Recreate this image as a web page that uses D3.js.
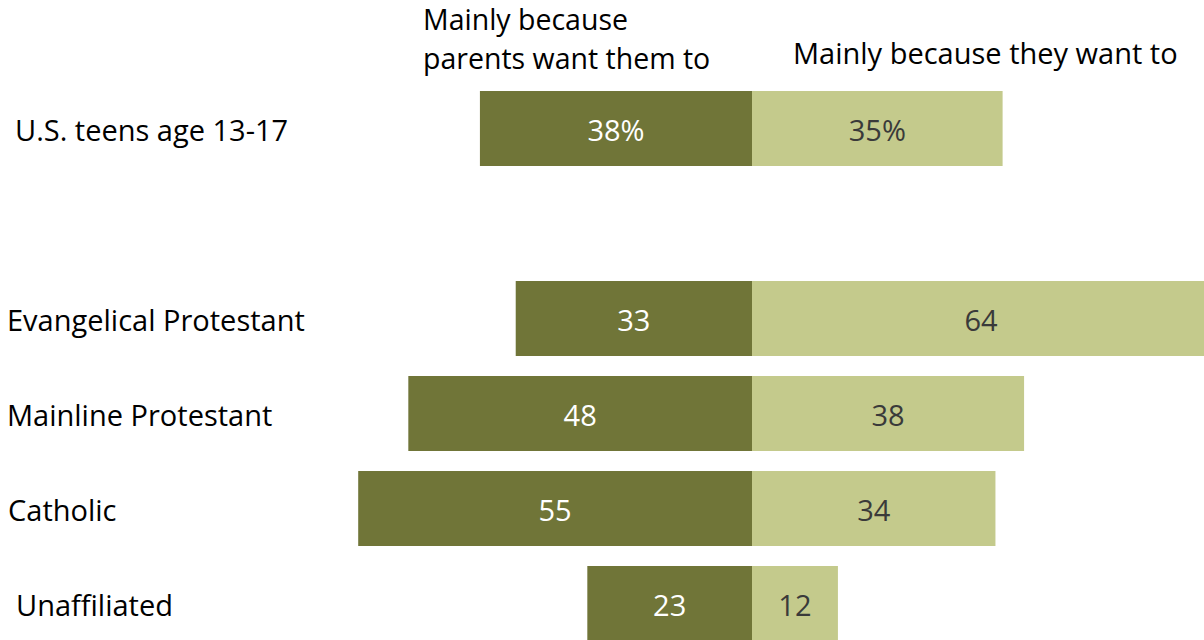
<!DOCTYPE html>
<html><head><meta charset="utf-8">
<script src="https://cdn.jsdelivr.net/npm/d3@7"></script>
<style>html,body{margin:0;padding:0;background:#fff;overflow:hidden}</style>
</head><body><svg id="c" width="1204" height="640"></svg>
<script>
const categories = ["U.S. teens age 13-17", "", "Evangelical Protestant", "Mainline Protestant", "Catholic", "Unaffiliated"];
const parentsValues = [38, null, 33, 48, 55, 23];
const selfValues = [35, null, 64, 38, 34, 12];
const seriesNames = ["Mainly because\nparents want them to", "Mainly because they want to"];

const svg = d3.select("#c");
const font = "'Open Sans', sans-serif";
const cx = 752;
const x = d3.scaleLinear().domain([0, 100]).range([0, 716]);
const pi = 20/95;
const y = d3.scaleBand().domain(categories).range([81, 651]).paddingInner(pi).paddingOuter(pi/2);
const dark = "#707538", light = "#c4ca8c";

const rows = categories.map((c,i)=>({c, p: parentsValues[i], s: selfValues[i], i})).filter(d=>d.p!=null);

svg.selectAll("rect.p").data(rows).join("rect")
  .attr("x", d=>cx - x(d.p)).attr("y", d=>y(d.c)).attr("width", d=>x(d.p)).attr("height", y.bandwidth()).attr("fill", dark);
svg.selectAll("rect.s").data(rows).join("rect")
  .attr("x", cx).attr("y", d=>y(d.c)).attr("width", d=>x(d.s)).attr("height", y.bandwidth()).attr("fill", light);

svg.selectAll("text.pv").data(rows).join("text")
  .attr("x", d=>cx - x(d.p)/2).attr("y", d=>y(d.c)+y.bandwidth()/2+2).attr("dy","0.35em")
  .attr("text-anchor","middle").attr("fill","#fff").attr("font-family",font).attr("font-size",29)
  .text(d=>d.i===0 ? d.p+"%" : d.p);
svg.selectAll("text.sv").data(rows).join("text")
  .attr("x", d=>cx + x(d.s)/2).attr("y", d=>y(d.c)+y.bandwidth()/2+2).attr("dy","0.35em")
  .attr("text-anchor","middle").attr("fill","#3a3a3a").attr("font-family",font).attr("font-size",29)
  .text(d=>d.i===0 ? d.s+"%" : d.s);

const labelX = [15, 0, 7, 7, 8, 16];
svg.selectAll("text.cat").data(rows).join("text")
  .attr("x", d=>labelX[d.i]).attr("y", d=>y(d.c)+y.bandwidth()/2 + 2).attr("dy","0.35em")
  .attr("fill","#000").attr("font-family",font).attr("font-size",29)
  .text(d=>d.c);

seriesNames[0].split("\n").forEach((t,i)=>
  svg.append("text").attr("x",423).attr("y",30+i*39).attr("font-family",font).attr("font-size",28.5).attr("fill","#000").text(t));
svg.append("text").attr("x",793).attr("y",64).attr("font-family",font).attr("font-size",29).attr("fill","#000").text(seriesNames[1]);
</script></body></html>
